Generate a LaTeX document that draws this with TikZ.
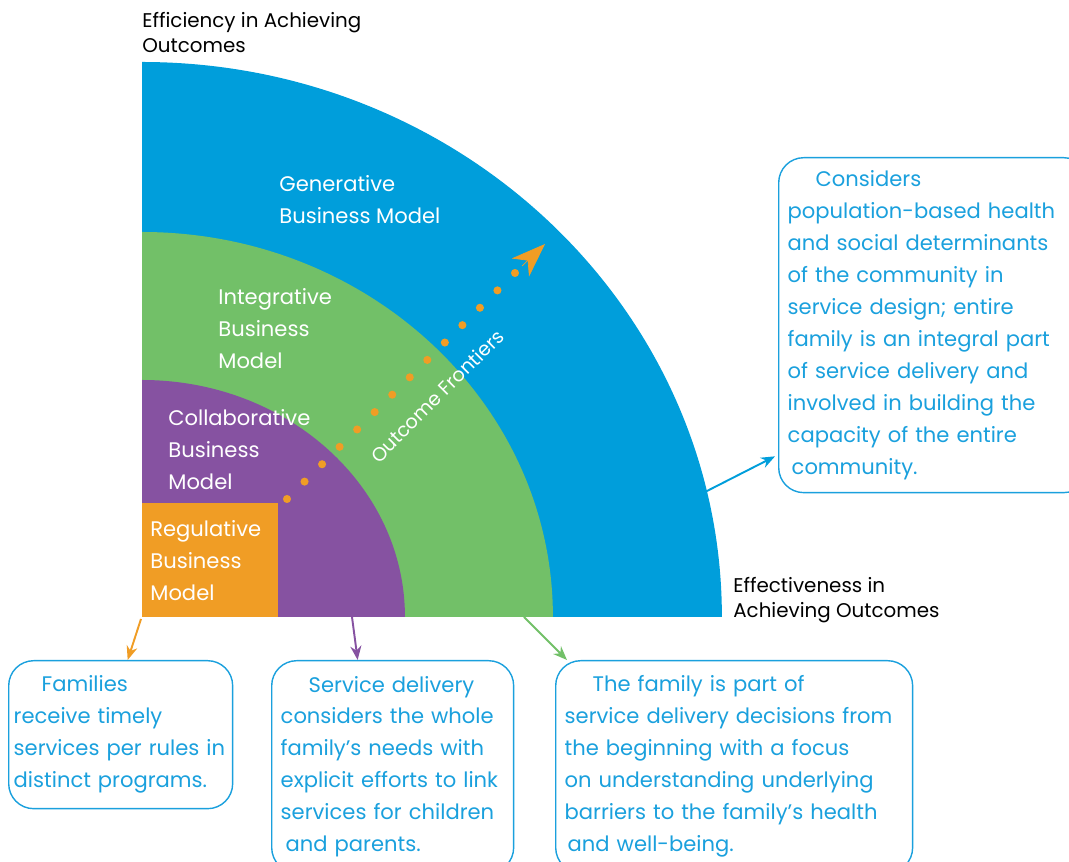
\documentclass[tikz,border=0pt]{standalone}
\usepackage{fontspec}
\setmainfont{Poppins}
\usepackage{xcolor}
\usepackage{tikz}
\usetikzlibrary{positioning,arrows.meta,calc}

\definecolor{genblue}{RGB}{0,158,219}
\definecolor{intgreen}{RGB}{114,192,104}
\definecolor{colpurple}{RGB}{134,82,161}
\definecolor{regorange}{RGB}{240,157,37}
\definecolor{notecyan}{RGB}{26,160,221}

\tikzset{
  modellabel/.style={text=white, align=left, anchor=north west, inner sep=0pt, font=\fontsize{12}{18.2}\selectfont},
  axislabel/.style={text=black, align=left, anchor=north west, inner sep=0pt, font=\fontsize{11.3}{14.2}\selectfont},
  notebox/.style={draw=notecyan, text=notecyan, rounded corners=0.5cm, line width=0.8pt, align=left, anchor=north west, inner xsep=0.18cm, inner ysep=0pt, font=\fontsize{12}{18.2}\selectfont},
  linkarrow/.style={line width=1.1pt, -{Stealth[length=0.28cm,width=0.22cm]}},
}

\begin{document}
\begin{tikzpicture}[x=0.02cm, y=0.02cm]
\useasboundingbox (0,0) rectangle (1069,862);
\coordinate (origin) at (142,245);

% outcome frontiers, outer to inner
\fill[genblue] (origin) -- ++(0,555) arc[start angle=90, end angle=0, x radius=11.6cm, y radius=11.1cm] -- cycle;
\fill[intgreen] (origin) -- ++(0,385) arc[start angle=90, end angle=0, x radius=8.22cm, y radius=7.7cm] -- cycle;
\fill[colpurple] (origin) -- ++(0,237) arc[start angle=90, end angle=0, x radius=5.26cm, y radius=4.74cm] -- cycle;
\node[fill=regorange, minimum width=2.72cm, minimum height=2.28cm, anchor=south west, inner sep=0pt] (regbox) at (origin) {};

\node[modellabel] (genlabel) at (279,687) {Generative\\Business Model};
\node[modellabel] (intlabel) at (218,574) {Integrative\\Business\\Model};
\node[modellabel] (collabel) at (168,453) {Collaborative\\Business\\Model};
\node[modellabel] (reglabel) at (150,342) {Regulative\\Business\\Model};

\node[axislabel] (efflabel) at (142,850) {Efficiency in Achieving\\Outcomes};
\node[axislabel] (effectlabel) at (733,285) {Effectiveness in\\Achieving Outcomes};

% dotted frontier arrow
\coordinate (frontStart) at (287,363);
\coordinate (frontEnd) at (515,589);
\coordinate (frontBack) at (522,596);
\coordinate (frontTip) at (545,618);
\foreach \k in {0,...,13}
  \fill[regorange] ($(frontStart)!\k/13!(frontEnd)$) circle[radius=2.3pt];
\draw[regorange, line width=0.4pt, -{Stealth[length=0.68cm,width=0.5cm,inset=0.2cm]}] (frontBack) -- (frontTip);
\node[text=white, rotate=45, font=\fontsize{11}{13}\selectfont] (frontlabel) at (437,466) {Outcome Frontiers};

% notes
\node[notebox, inner xsep=0.1cm, text width=4.28cm, minimum height=2.96cm] (regnote) at (8,202)
  {\hspace*{0.56cm}Families\\receive timely\\services per rules in\\distinct programs.};
\node[notebox, text width=4.48cm, minimum height=4.24cm] (colnote) at (271,202)
  {\hspace*{0.56cm}Service delivery\\considers the whole\\family’s needs with\\explicit efforts to link\\services for children\\\hspace*{0.1cm}and parents.};
\node[notebox, text width=6.78cm, minimum height=4.24cm] (intnote) at (555,202)
  {\hspace*{0.56cm}The family is part of\\service delivery decisions from\\the beginning with a focus\\on understanding underlying\\barriers to the family’s health\\\hspace*{0.06cm}and well-being.};
\node[notebox, text width=5.84cm, minimum height=6.7cm] (gennote) at (778,705)
  {\hspace*{0.56cm}Considers\\population-based health\\and social determinants\\of the community in\\service design; entire\\family is an integral part\\of service delivery and\\involved in building the\\capacity of the entire\\\hspace*{0.08cm}community.};

% links from each frontier to its note
\coordinate (regEdge) at (141,243);
\coordinate (colEdge) at (352,245);
\coordinate (intEdge) at (524,245);
\coordinate (genEdge) at (705,370);
\draw[linkarrow, regorange] (regEdge) -- ([xshift=0.14cm]regnote.north);
\draw[linkarrow, colpurple] (colEdge) -- ([xshift=-0.7cm]colnote.north);
\draw[linkarrow, intgreen] (intEdge) -- ([xshift=0.24cm]intnote.north west);
\draw[linkarrow, genblue] (genEdge) -- ([shift={(-0.06cm,0.74cm)}]gennote.south west);

\end{tikzpicture}
\end{document}
